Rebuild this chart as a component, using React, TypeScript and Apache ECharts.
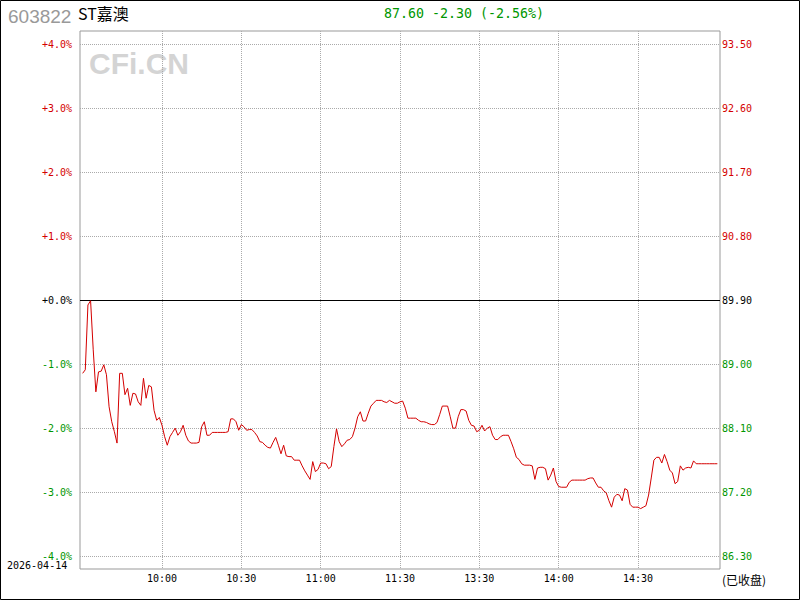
import React, { useEffect, useRef } from "react";
import * as echarts from "echarts";

const prevClose = 89.9;
const stockCode = "603822";
const stockName = "ST嘉澳";
const headerQuote = "87.60 -2.30 (-2.56%)";
const tradeDate = "2026-04-14";
const closedNote = "(已收盘)";
const watermark = "CFi.CN";
const timeTickLabels = ["10:00", "10:30", "11:00", "11:30", "13:30", "14:00", "14:30"];
const pctTicks = [-4, -3, -2, -1, 0, 1, 2, 3, 4];

// minute prices, 09:30 .. 11:30, 13:01 .. 15:00
const prices = [
  88.87, 88.92, 89.83, 89.89, 89.2, 88.61, 88.89, 88.9, 88.99, 88.85,
  88.4, 88.19, 88.05, 87.89, 88.87, 88.87, 88.57, 88.66, 88.42, 88.59,
  88.58, 88.47, 88.42, 88.8, 88.52, 88.7, 88.68, 88.35, 88.21, 88.25,
  88.14, 87.98, 87.86, 87.98, 88.04, 88.1, 88.0, 88.05, 88.14, 88.0,
  87.92, 87.89, 87.89, 87.89, 87.9, 88.12, 88.19, 88.0, 88.0, 88.04,
  88.04, 88.04, 88.04, 88.04, 88.04, 88.05, 88.23, 88.23, 88.19, 88.07,
  88.15, 88.12, 88.07, 88.08, 88.08, 88.04, 87.99, 87.91, 87.9, 87.86,
  87.83, 87.82, 87.9, 87.97, 87.86, 87.74, 87.86, 87.71, 87.7, 87.7,
  87.65, 87.65, 87.65, 87.57, 87.5, 87.44, 87.38, 87.63, 87.49, 87.52,
  87.61, 87.61, 87.6, 87.53, 87.56, 87.84, 88.09, 87.91, 87.84, 87.88,
  87.93, 87.94, 87.98, 88.1, 88.26, 88.33, 88.2, 88.2, 88.31, 88.41,
  88.45, 88.49, 88.49, 88.49, 88.47, 88.46, 88.49, 88.47, 88.45, 88.45,
  88.47, 88.48, 88.38, 88.24, 88.24, 88.24, 88.24, 88.21, 88.19, 88.19,
  88.18, 88.16, 88.15, 88.15, 88.18, 88.29, 88.41, 88.41, 88.41, 88.26,
  88.1, 88.1, 88.26, 88.36, 88.36, 88.34, 88.21, 88.14, 88.13, 88.05,
  88.07, 88.14, 88.06, 88.1, 88.12, 88.0, 87.94, 87.94, 87.98, 88.0,
  88.0, 88.0, 87.91, 87.81, 87.69, 87.66, 87.6, 87.58, 87.58, 87.58,
  87.57, 87.38, 87.54, 87.55, 87.55, 87.53, 87.37, 87.44, 87.54, 87.35,
  87.28, 87.27, 87.27, 87.27, 87.34, 87.37, 87.37, 87.37, 87.37, 87.37,
  87.37, 87.39, 87.4, 87.4, 87.33, 87.27, 87.27, 87.22, 87.19, 87.08,
  86.99, 87.13, 87.17, 87.16, 87.08, 87.25, 87.23, 87.03, 86.99, 86.99,
  86.99, 86.97, 86.99, 87.01, 87.16, 87.4, 87.65, 87.69, 87.69, 87.61,
  87.73, 87.63, 87.51, 87.47, 87.32, 87.35, 87.57, 87.51, 87.54, 87.55,
  87.54, 87.64, 87.6, 87.6, 87.6, 87.6, 87.6, 87.6, 87.6, 87.6,
  87.6,
];

function fmtTime(totalMin: number): string {
  const h = Math.floor(totalMin / 60);
  const m = totalMin % 60;
  return (h < 10 ? "0" : "") + h + ":" + (m < 10 ? "0" : "") + m;
}

// category slots: one pad slot, 241 minutes, one pad slot
function buildCategories(): string[] {
  const out: string[] = ["09:29"];
  for (let k = 0; k <= 120; k++) out.push(fmtTime(9 * 60 + 30 + k));
  for (let k = 0; k < 120; k++) out.push(fmtTime(13 * 60 + 1 + k));
  out.push("15:01");
  return out;
}

const RED = "#d40000";
const GREEN = "#009600";
const MONO = "DejaVu Sans Mono";

function levelColor(v: number) {
  if (v > 1e-9) return RED;
  if (v < -1e-9) return GREEN;
  return "#000000";
}

export default function App() {
  const ref = useRef<HTMLDivElement>(null);
  useEffect(() => {
    if (!ref.current) return;
    const chart = echarts.init(ref.current, null, { renderer: "svg" });
    const categories = buildCategories();
    const pctData: (number | null)[] = [null, ...prices.map((p) => (p / prevClose - 1) * 100)];
    const isTick = (_i: number, v: string) => timeTickLabels.includes(v);

    chart.setOption({
      animation: false,
      backgroundColor: "#ffffff",
      grid: [
        { left: 80, right: 80, top: 31, bottom: 31, show: true, borderColor: "#999999", borderWidth: 1 },
        { left: 80, right: 80, top: 44, bottom: 44 },
      ],
      xAxis: [
        {
          gridIndex: 0,
          type: "category",
          data: categories,
          boundaryGap: false,
          axisLine: { show: false },
          axisTick: { show: false },
          axisLabel: {
            interval: isTick,
            margin: 4,
            color: "#000",
            fontFamily: MONO,
            fontSize: 10,
          },
          splitLine: {
            show: true,
            interval: isTick,
            lineStyle: { color: "#aaaaaa", type: [1, 1], width: 1 },
          },
        },
        { gridIndex: 1, type: "category", data: categories, boundaryGap: false, show: false },
      ],
      yAxis: [
        { gridIndex: 0, type: "value", min: 0, max: 1, show: false },
        {
          gridIndex: 1,
          type: "value",
          position: "left",
          min: pctTicks[0],
          max: pctTicks[pctTicks.length - 1],
          interval: 1,
          axisLine: { show: false },
          axisTick: { show: false },
          axisLabel: {
            margin: 8,
            fontFamily: MONO,
            fontSize: 10,
            formatter: (v: number) => (v >= 0 ? "+" : "") + Number(v).toFixed(1) + "%",
            color: (v: any) => levelColor(Number(v)),
          },
          splitLine: { show: true, lineStyle: { color: "#aaaaaa", type: [1, 1], width: 1 } },
        },
        {
          gridIndex: 1,
          type: "value",
          position: "right",
          min: pctTicks[0],
          max: pctTicks[pctTicks.length - 1],
          interval: 1,
          axisLine: { show: false },
          axisTick: { show: false },
          splitLine: { show: false },
          axisLabel: {
            margin: 2,
            fontFamily: MONO,
            fontSize: 10,
            formatter: (v: number) => (prevClose * (1 + Number(v) / 100)).toFixed(2),
            color: (v: any) => levelColor(Number(v)),
          },
        },
      ],
      series: [
        {
          type: "line",
          xAxisIndex: 1,
          yAxisIndex: 1,
          data: pctData,
          symbol: "none",
          showSymbol: false,
          lineStyle: { color: RED, width: 1 },
          z: 5,
          markLine: {
            silent: true,
            symbol: "none",
            label: { show: false },
            lineStyle: { color: "#000000", type: "solid", width: 1 },
            data: [{ yAxis: 0 }],
          },
        },
      ],
      graphic: [
        {
          type: "rect",
          shape: { x: 0.5, y: 0.5, width: 799, height: 599 },
          style: { fill: "none", stroke: "#000000", lineWidth: 1 },
          silent: true,
        },
        {
          type: "text",
          x: 8,
          y: 7,
          style: { text: stockCode, fill: "#999999", font: "19px 'Liberation Sans'", verticalAlign: "top" },
        },
        {
          type: "text",
          x: 78,
          y: 5,
          style: { text: stockName, fill: "#000000", font: "16px 'Noto Sans CJK SC'", verticalAlign: "top" },
        },
        {
          type: "text",
          x: 384,
          y: 7,
          style: { text: headerQuote, fill: GREEN, font: "13.3px 'DejaVu Sans Mono'", verticalAlign: "top" },
        },
        {
          type: "text",
          x: 89,
          y: 48,
          style: { text: watermark, fill: "#d4d4d4", font: "bold 30px 'Liberation Sans'", verticalAlign: "top" },
        },
        {
          type: "text",
          x: 7,
          y: 565,
          style: { text: tradeDate, fill: "#000000", font: "10px 'DejaVu Sans Mono'", verticalAlign: "middle" },
        },
        {
          type: "text",
          x: 722,
          y: 579,
          style: { text: closedNote, fill: "#000000", font: "12px 'Noto Sans CJK SC'", verticalAlign: "middle" },
        },
      ],
    });
    return () => chart.dispose();
  }, []);

  return (
    <div
      ref={ref}
      style={{ position: "fixed", left: 0, top: 0, width: 800, height: 600, background: "#fff" }}
    />
  );
}
